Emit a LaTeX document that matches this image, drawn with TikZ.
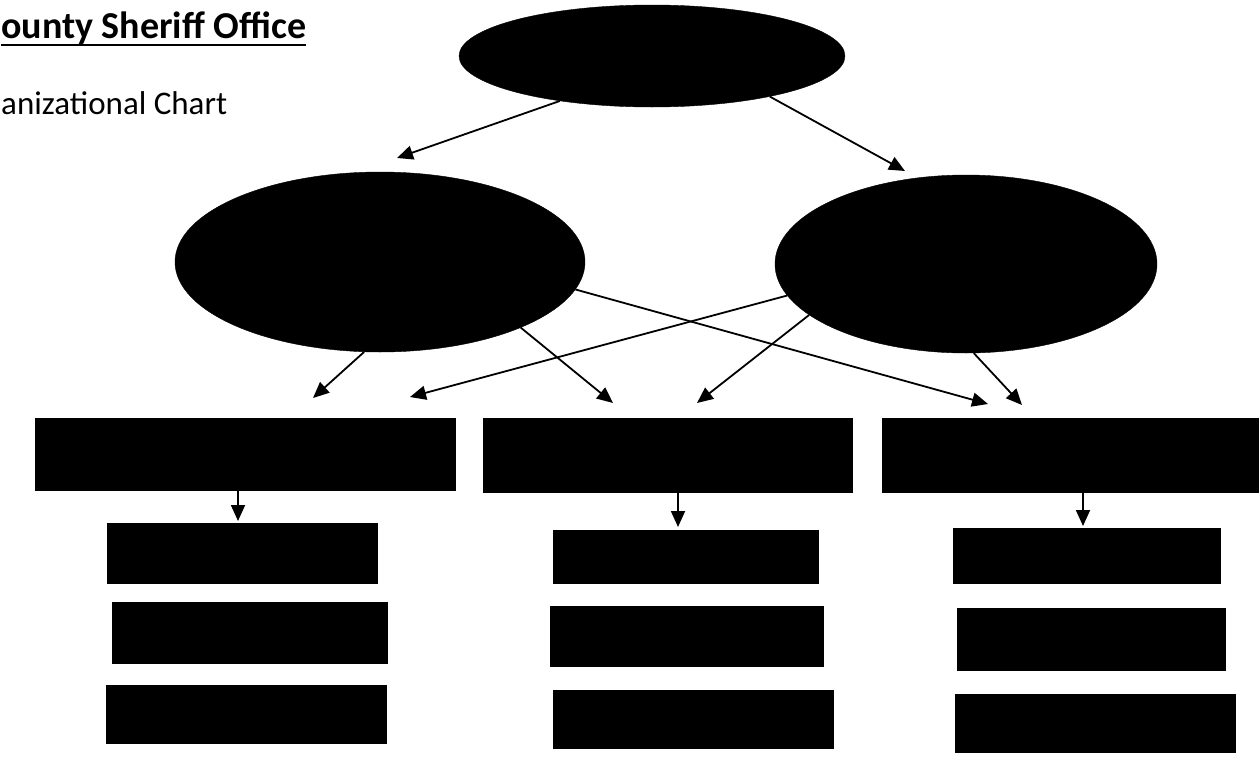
\documentclass[tikz,border=0pt]{standalone}
\usepackage{fontspec}
\setmainfont{Carlito}
\usetikzlibrary{shapes.geometric,arrows.meta,calc}

\begin{document}
\begin{tikzpicture}[x=1pt,y=-1pt,
  oval/.style={ellipse,fill=black,draw=black,inner sep=0pt},
  unit/.style={rectangle,fill=black,draw=black,inner sep=0pt},
  link/.style={line width=1.8pt,-{Triangle[length=16pt,width=14pt]}}]
\useasboundingbox (0,0) rectangle (1260,758);

% heading
\node[anchor=base west,inner sep=0pt,font=\fontsize{38}{42}\selectfont\bfseries] (title) at (1,38) {ounty Sheriff Office};
\draw[line width=2.5pt] ($(title.base west)+(0,7)$) -- ($(title.base east)+(0,7)$);
\node[anchor=base west,inner sep=0pt,font=\fontsize{33}{37}\selectfont] (sub) at (1,114) {anizational Chart};

% command level
\node[oval,minimum width=386pt,minimum height=102pt] (T) at (652,56) {};
\node[oval,minimum width=410pt,minimum height=180pt] (L) at (380,262) {};
\node[oval,minimum width=382pt,minimum height=178pt] (R) at (966,264) {};

% divisions
\node[unit,minimum width=420pt,minimum height=72pt] (B1) at (245,454) {};
\node[unit,minimum width=369pt,minimum height=74pt] (B2) at (667.5,455) {};
\node[unit,minimum width=376pt,minimum height=74pt] (B3) at (1070,455) {};

% units under each division
\node[unit,minimum width=270pt,minimum height=60pt] (a1) at (242,553) {};
\node[unit,minimum width=275pt,minimum height=61pt] (a2) at (249.5,632.5) {};
\node[unit,minimum width=280pt,minimum height=58pt] (a3) at (246,714) {};

\node[unit,minimum width=265pt,minimum height=53pt] (b1) at (685.5,556.5) {};
\node[unit,minimum width=273pt,minimum height=60pt] (b2) at (686.5,636) {};
\node[unit,minimum width=280pt,minimum height=58pt] (b3) at (693,719) {};

\node[unit,minimum width=267pt,minimum height=55pt] (c1) at (1086.5,555.5) {};
\node[unit,minimum width=268pt,minimum height=62pt] (c2) at (1091,639) {};
\node[unit,minimum width=280pt,minimum height=58pt] (c3) at (1095,723) {};

% arrow ends
\coordinate (tL) at (397,158);
\coordinate (tR) at (905,171);
\coordinate (p1) at (313,398);
\coordinate (p2) at (410,397);
\coordinate (p3) at (613,403);
\coordinate (p4) at (697,403);
\coordinate (p5) at (988,404);
\coordinate (p6) at (1022,405);
\coordinate (q1) at (238,521);
\coordinate (q2) at (678,527);
\coordinate (q3) at (1083,526);

% reporting lines
\draw[link] (T.206) -- (tL);
\draw[link] (T.341) -- (tR);
\draw[link] (L.260) -- (p1);
\draw[link] (R.190) -- (p2);
\draw[link] (L.335) -- (p3);
\draw[link] (R.198) -- (p4);
\draw[link] (L.352) -- (p5);
\draw[link] (R.275) -- (p6);
\draw[link] (q1 |- B1.south) -- (q1);
\draw[link] (q2 |- B2.south) -- (q2);
\draw[link] (q3 |- B3.south) -- (q3);
\end{tikzpicture}
\end{document}
